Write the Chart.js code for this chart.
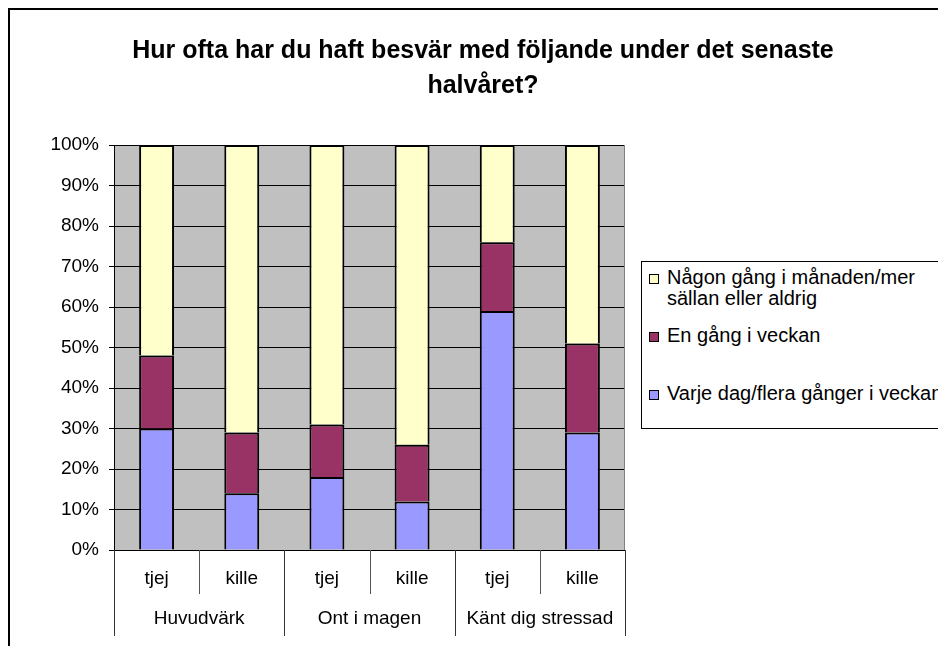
<!DOCTYPE html>
<html>
<head>
<meta charset="utf-8">
<script src="https://cdn.jsdelivr.net/npm/chart.js@4.4.1/dist/chart.umd.min.js"></script>
<style>
  body { margin: 0; background: #fff; overflow: hidden; font-family: "Liberation Sans", Arial, sans-serif; }
  #wrap { position: relative; width: 938px; height: 646px; overflow: hidden; }
  #frame { position: absolute; left: 8px; top: 8px; width: 1000px; height: 700px; border: 2px solid #000; }
  #chartBox { position: absolute; left: 0; top: 0; width: 938px; height: 646px; }
  #title { position: absolute; left: 83px; width: 800px; top: 32px; text-align: center; font-weight: bold; font-size: 25px; line-height: 35px; color: #000; }
  #legend { position: absolute; left: 641px; top: 261px; width: 400px; height: 166px; border: 1px solid #000; background: #fff; }
  .item { position: absolute; left: 0; font-size: 20px; line-height: 21px; color: #000; white-space: nowrap; }
  .swatch { position: absolute; left: 7px; top: 7px; width: 8px; height: 8px; border: 1px solid #000; }
  .txt { position: absolute; left: 25px; top: 0; }
</style>
</head>
<body>
<div id="wrap">
  <div id="frame"></div>
  <div id="chartBox"><canvas id="chart"></canvas></div>
  <div id="title"></div>
  <div id="legend"></div>
</div>
<script>
  // categories
  const groups = ["Huvudvärk", "Ont i magen", "Känt dig stressad"];
  const genders = ["tjej", "kille"];

  // series values (percent)
  const dailyValues = [30, 14, 18, 12, 59, 29];
  const weeklyValues = [18, 15, 13, 14, 17, 22];
  const rarelyValues = [52, 71, 69, 74, 24, 49];

  const seriesNames = [
    ["Varje dag/flera gånger i veckan"],
    ["En gång i veckan"],
    ["Någon gång i månaden/mer", "sällan eller aldrig"]
  ];
  const seriesColors = ["#9999FF", "#993366", "#FFFFCC"];

  const titleLines = ["Hur ofta har du haft besvär med följande under det senaste", "halvåret?"];

  const labels = [];
  groups.forEach(() => genders.forEach((g) => labels.push(g)));

  const FONT = "'Liberation Sans', Arial, sans-serif";

  document.getElementById("title").innerHTML = titleLines.join("<br>");

  // gray plot background + right edge
  const plotBg = {
    id: "plotBg",
    beforeDraw(chart) {
      const { ctx, chartArea: a } = chart;
      ctx.save();
      ctx.fillStyle = "#C0C0C0";
      ctx.fillRect(a.left, a.top, a.right - a.left, a.bottom - a.top);
      ctx.restore();
    },
    afterDatasetsDraw(chart) {
      const { ctx, chartArea: a } = chart;
      ctx.save();
      ctx.strokeStyle = "#808080";
      ctx.lineWidth = 1;
      ctx.beginPath();
      ctx.moveTo(a.right - 0.5, a.top);
      ctx.lineTo(a.right - 0.5, a.bottom);
      ctx.stroke();
      ctx.restore();
    }
  };

  // category separators and group labels under the axis
  const groupAxis = {
    id: "groupAxis",
    afterDraw(chart) {
      const { ctx, chartArea: a } = chart;
      const x = chart.scales.x;
      const n = labels.length;
      const edge = (i) => {
        if (i === 0) return a.left;
        if (i === n) return a.right;
        return (x.getPixelForValue(i - 1) + x.getPixelForValue(i)) / 2;
      };
      ctx.save();
      ctx.lineWidth = 1;
      for (let i = 0; i <= n; i++) {
        const px = Math.round(edge(i)) + 0.5;
        const outer = i % genders.length === 0;
        ctx.strokeStyle = outer ? "#333" : "#555";
        ctx.beginPath();
        ctx.moveTo(px, a.bottom);
        ctx.lineTo(px, outer ? 636 : 594);
        ctx.stroke();
      }
      ctx.fillStyle = "#000";
      ctx.font = "19px " + FONT;
      ctx.textAlign = "center";
      ctx.textBaseline = "middle";
      groups.forEach((g, gi) => {
        const cx = (edge(gi * genders.length) + edge((gi + 1) * genders.length)) / 2;
        ctx.fillText(g, cx, 619);
      });
      ctx.restore();
    }
  };

  const datasets = [dailyValues, weeklyValues, rarelyValues].map((vals, i) => ({
    label: seriesNames[i].join(" "),
    data: vals,
    backgroundColor: seriesColors[i],
    borderColor: "#000",
    borderWidth: 2,
    borderSkipped: "start",
    categoryPercentage: 1,
    barPercentage: 0.41
  }));

  new Chart(document.getElementById("chart"), {
    type: "bar",
    data: { labels: labels, datasets: datasets },
    plugins: [plotBg, groupAxis],
    options: {
      responsive: true,
      maintainAspectRatio: false,
      animation: false,
      layout: { padding: { left: 0, right: 313, top: 145, bottom: 0 } },
      plugins: {
        legend: { display: false },
        tooltip: { enabled: false },
        title: { display: false }
      },
      scales: {
        x: {
          stacked: true,
          afterFit(scale) { scale.height = 96; },
          grid: { display: true, drawOnChartArea: false, drawTicks: false },
          border: { display: true, color: "#000" },
          ticks: { color: "#000", font: { family: FONT, size: 19 }, padding: 17, maxRotation: 0 }
        },
        y: {
          stacked: true,
          min: 0,
          max: 100,
          afterFit(scale) { scale.width = 114; },
          grid: { color: "#000", tickLength: 5, tickColor: "#000" },
          border: { display: true, color: "#000" },
          ticks: {
            stepSize: 10,
            color: "#000",
            padding: 10,
            font: { family: FONT, size: 19 },
            callback: (v) => v + "%"
          }
        }
      }
    }
  });

  // legend, top item first as in the reference
  const legendTops = [5, 63, 121];
  const legend = document.getElementById("legend");
  [2, 1, 0].forEach((si, row) => {
    const item = document.createElement("div");
    item.className = "item";
    item.style.top = legendTops[row] + "px";
    const sw = document.createElement("div");
    sw.className = "swatch";
    sw.style.background = seriesColors[si];
    const txt = document.createElement("div");
    txt.className = "txt";
    txt.innerHTML = seriesNames[si].join("<br>");
    item.appendChild(sw);
    item.appendChild(txt);
    legend.appendChild(item);
  });
</script>
</body>
</html>
